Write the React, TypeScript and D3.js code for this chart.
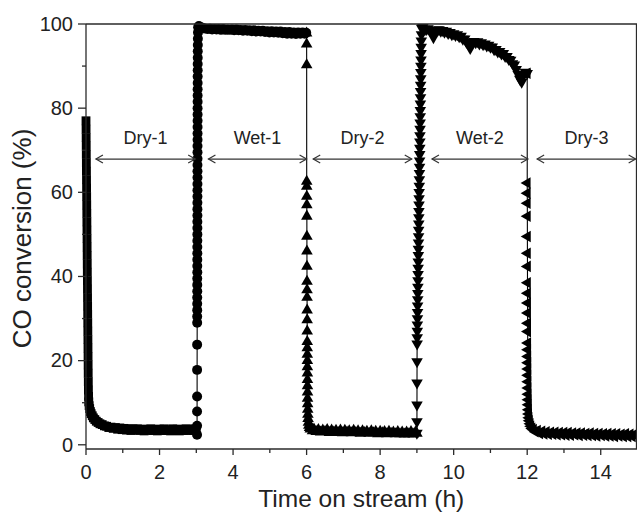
import React from 'react';
import * as d3 from 'd3';

// ---- data (time h, CO conversion %) ----
const dry1: [number, number][] = [
  [0.000,77.0],[0.002,75],[0.004,73],[0.006,71],[0.008,69],[0.010,67],[0.012,65],[0.014,63],[0.016,61],[0.018,59],
  [0.020,57],[0.022,55],[0.024,53],[0.026,51],[0.028,49],[0.030,47],[0.032,45],[0.034,43],[0.036,41],[0.038,39],
  [0.040,37],[0.042,35],[0.044,33],[0.046,31],[0.048,29],[0.050,27],[0.052,25],[0.054,23],[0.056,21],[0.058,19],
  [0.060,17],[0.063,15],[0.066,13],[0.070,11.5],[0.076,10.2],[0.085,9.3],[0.10,8.6],[0.12,7.9],[0.14,7.4],[0.17,6.9],
  [0.20,6.4],[0.24,6.0],[0.28,5.6],[0.33,5.3],[0.38,5.0],[0.44,4.8],[0.50,4.5],[0.56,4.4],[0.62,4.1],[0.68,4.2],
  [0.74,3.9],[0.80,4.1],[0.86,3.7],[0.92,4.0],[0.98,3.6],[1.04,3.9],[1.10,3.5],[1.16,3.8],[1.22,3.4],[1.28,3.8],
  [1.34,3.5],[1.40,3.8],[1.46,3.4],[1.52,3.7],[1.58,3.3],[1.64,3.7],[1.70,3.4],[1.76,3.8],[1.82,3.4],[1.88,3.7],
  [1.94,3.3],[2.00,3.7],[2.06,3.4],[2.12,3.8],[2.18,3.4],[2.24,3.6],[2.30,3.3],[2.36,3.8],[2.42,3.4],[2.48,3.7],
  [2.54,3.3],[2.60,3.7],[2.66,3.4],[2.72,3.8],[2.78,3.4],[2.84,3.7],[2.90,3.4],[2.96,3.8],[3.00,3.5],
];

const wet1: [number, number][] = [
  [3.020,2.4],[3.021,4.5],[3.021,7.9],[3.022,11.5],[3.022,17.8],[3.023,23.8],
  [3.024,29.0],[3.024,30.5],[3.025,32.0],[3.025,33.5],[3.025,35.0],[3.026,36.5],[3.026,38.0],[3.026,39.5],[3.027,41.0],[3.027,42.5],
  [3.027,44.0],[3.028,45.5],[3.028,47.0],[3.028,48.5],[3.029,50.0],[3.029,51.5],[3.029,53.0],[3.030,54.5],[3.030,56.0],[3.030,57.5],
  [3.031,59.0],[3.031,60.5],[3.031,62.0],[3.032,63.5],[3.032,65.0],[3.032,66.5],[3.033,68.0],[3.033,69.5],[3.033,71.0],[3.034,72.5],
  [3.034,74.0],[3.034,75.5],[3.035,77.0],[3.035,78.5],[3.035,80.0],[3.036,81.5],[3.036,83.0],[3.036,84.5],[3.037,86.0],[3.037,87.5],
  [3.038,89.0],[3.038,90.5],[3.039,92.0],[3.040,93.5],[3.041,95.0],[3.043,96.5],[3.046,98.0],[3.05,99.2],
  [3.07,99.5],[3.10,99.3],[3.14,99.2],[3.19,99.0],[3.25,98.9],[3.31,98.8],[3.37,98.9],[3.43,98.7],[3.49,98.8],[3.55,98.7],
  [3.61,98.8],[3.67,98.6],[3.73,98.8],[3.79,98.6],[3.85,98.7],[3.91,98.6],[3.97,98.7],[4.03,98.5],[4.09,98.7],[4.15,98.5],
  [4.21,98.6],[4.27,98.4],[4.33,98.6],[4.39,98.4],[4.45,98.5],[4.51,98.3],[4.57,98.5],[4.63,98.2],[4.69,98.4],[4.75,98.2],
  [4.81,98.4],[4.87,98.1],[4.93,98.3],[4.99,98.0],[5.05,98.3],[5.11,98.0],[5.17,98.2],[5.23,97.9],[5.29,98.2],[5.35,97.8],
  [5.41,98.1],[5.47,97.7],[5.53,98.1],[5.59,97.7],[5.65,98.0],[5.71,97.6],[5.77,98.0],[5.83,97.7],[5.89,98.0],[5.95,97.7],[5.99,97.9],
];

const dry2: [number, number][] = [
  [6.000,97.8],[6.001,95.2],[6.002,90.3],[6.003,62.6],[6.004,61.4],[6.005,59.0],[6.006,57.0],[6.007,54.3],[6.008,49.5],[6.009,46.0],
  [6.010,42.4],[6.011,38.8],[6.012,36.8],[6.013,35.0],[6.014,32.0],[6.015,29.7],[6.016,27.0],[6.017,24.5],[6.018,23.0],[6.019,21.5],
  [6.020,20.0],[6.021,18.5],[6.022,17.0],[6.023,15.5],[6.024,14.0],[6.025,12.5],[6.026,11.0],[6.028,9.7],[6.031,8.4],[6.035,7.2],
  [6.04,6.2],[6.05,5.3],[6.06,4.6],[6.08,4.1],[6.10,3.7],[6.13,3.9],[6.16,3.3],[6.20,3.7],[6.26,3.1],[6.32,3.6],
  [6.38,3.0],[6.44,3.5],[6.50,3.1],[6.56,3.6],[6.62,2.9],[6.68,3.5],[6.74,3.0],[6.80,3.4],[6.86,2.9],[6.92,3.5],
  [6.98,2.8],[7.04,3.4],[7.10,3.0],[7.16,3.3],[7.22,2.8],[7.28,3.4],[7.34,2.9],[7.40,3.3],[7.46,2.7],[7.52,3.3],
  [7.58,2.9],[7.64,3.2],[7.70,2.7],[7.76,3.3],[7.82,2.8],[7.88,3.2],[7.94,2.6],[8.00,3.2],[8.06,2.8],[8.12,3.1],
  [8.18,2.6],[8.24,3.2],[8.30,2.7],[8.36,3.0],[8.42,2.6],[8.48,3.1],[8.54,2.6],[8.60,3.0],[8.66,2.5],[8.72,3.0],
  [8.78,2.6],[8.84,3.1],[8.90,2.5],[8.96,3.0],[9.00,2.7],
];

const wet2: [number, number][] = [
  [9.000,2.8],[9.001,5.5],[9.002,9.5],[9.003,14.7],[9.004,19.8],
  [9.006,24.0],[9.008,25.5],[9.011,27.0],[9.013,28.5],[9.016,30.0],[9.018,31.5],[9.020,33.0],[9.023,34.5],[9.025,36.0],[9.027,37.5],
  [9.030,39.0],[9.032,40.5],[9.034,42.0],[9.037,43.5],[9.039,45.0],[9.041,46.5],[9.044,48.0],[9.046,49.5],[9.048,51.0],[9.051,52.5],
  [9.053,54.0],[9.055,55.5],[9.058,57.0],[9.060,58.5],[9.062,60.0],[9.065,61.5],[9.067,63.0],[9.070,64.5],[9.072,66.0],[9.074,67.5],
  [9.077,69.0],[9.079,70.5],[9.081,72.0],[9.084,73.5],[9.086,75.0],[9.088,76.5],[9.091,78.0],[9.093,79.5],[9.095,81.0],[9.098,82.5],
  [9.100,84.0],[9.102,85.5],[9.105,87.0],[9.107,88.5],[9.109,90.0],[9.112,91.5],[9.114,93.0],[9.117,94.5],[9.120,96.0],[9.124,97.5],
  [9.13,99.0],[9.16,99.2],[9.20,98.8],[9.25,98.7],[9.30,98.9],[9.35,98.5],[9.40,98.2],[9.45,96.8],[9.50,98.2],[9.55,98.6],
  [9.60,98.7],[9.65,98.3],[9.70,98.5],[9.75,98.1],[9.80,98.3],[9.85,97.8],[9.90,98.0],[9.95,97.5],[10.00,97.7],[10.05,97.3],
  [10.10,97.5],[10.15,97.0],[10.20,97.1],[10.25,96.4],[10.30,96.5],[10.35,95.7],[10.40,95.2],[10.45,94.2],[10.50,95.6],[10.55,95.9],
  [10.60,95.6],[10.65,95.8],[10.70,95.3],[10.75,95.6],[10.80,95.1],[10.85,95.3],[10.90,94.8],[10.95,95.0],[11.00,94.5],[11.05,94.6],
  [11.10,93.9],[11.15,94.0],[11.20,93.4],[11.25,93.5],[11.30,92.9],[11.35,93.0],[11.40,92.3],[11.45,92.3],[11.50,91.6],[11.55,91.4],
  [11.60,90.6],[11.65,90.3],[11.70,89.2],[11.75,88.1],[11.80,86.9],[11.85,86.2],[11.90,87.8],[11.95,88.6],[12.00,88.3],
];

const dry3: [number, number][] = [
  [12.000,88.3],[12.001,62.2],[12.002,59.8],[12.003,57.4],[12.004,54.3],[12.005,49.5],[12.006,45.5],[12.007,42.4],[12.008,38.5],[12.009,36.0],
  [12.010,33.7],[12.011,31.3],[12.012,28.9],[12.013,26.9],[12.014,24.2],[12.015,22.6],[12.016,21.0],[12.017,19.5],[12.018,18.0],[12.019,16.5],
  [12.020,15.0],[12.022,13.5],[12.024,12.0],[12.027,10.7],[12.030,9.5],[12.035,8.3],[12.040,7.3],[12.050,6.4],[12.060,5.7],[12.080,5.0],
  [12.10,4.4],[12.13,3.9],[12.17,3.6],[12.22,3.1],[12.28,3.4],[12.34,2.7],[12.40,3.2],[12.46,2.6],[12.52,3.1],[12.58,2.5],
  [12.64,3.0],[12.70,2.5],[12.76,3.0],[12.82,2.4],[12.88,2.9],[12.94,2.4],[13.00,2.9],[13.06,2.3],[13.12,2.9],[13.18,2.3],
  [13.24,2.8],[13.30,2.4],[13.36,2.8],[13.42,2.2],[13.48,2.8],[13.54,2.3],[13.60,2.7],[13.66,2.2],[13.72,2.8],[13.78,2.2],
  [13.84,2.7],[13.90,2.1],[13.96,2.7],[14.02,2.2],[14.08,2.6],[14.14,2.1],[14.20,2.7],[14.26,2.1],[14.32,2.6],[14.38,2.0],
  [14.44,2.6],[14.50,2.1],[14.56,2.5],[14.62,2.0],[14.68,2.6],[14.74,2.0],[14.80,2.5],[14.86,2.0],[14.92,2.5],[14.98,2.1],
];

const phaseLabels = ['Dry-1', 'Wet-1', 'Dry-2', 'Wet-2', 'Dry-3'];
const phaseStart = [0.27, 3.33, 6.18, 9.41, 12.27];
const phaseEnd = [2.97, 6.0, 8.86, 12.02, 14.95];
const phaseArrowValue = 67.9;
const phaseLabelValue = 71.5;

const xMajorTicks = [0, 2, 4, 6, 8, 10, 12, 14];
const xMinorTicks = [1, 3, 5, 7, 9, 11, 13];
const yMajorTicks = [0, 20, 40, 60, 80, 100];
const yMinorTicks = [10, 30, 50, 70, 90];

const FONT = 'Arial, "Liberation Sans", Helvetica, sans-serif';
const AX = '#2a2a2a';

const x = d3.scaleLinear().domain([0, 15]).range([86, 637.5]);
const y = d3.scaleLinear().domain([-1, 100]).range([449, 24]);

const series = [
  { data: dry1, symbol: d3.symbolSquare, size: 78, rot: 0 },
  { data: wet1, symbol: d3.symbolCircle, size: 78, rot: 0 },
  { data: dry2, symbol: d3.symbolTriangle, size: 58, rot: 0 },
  { data: wet2, symbol: d3.symbolTriangle, size: 58, rot: 180 },
  { data: dry3, symbol: d3.symbolTriangle, size: 58, rot: -90 },
];

const lineGen = d3.line<[number, number]>().x(d => x(d[0])).y(d => y(d[1]));

function Arrow({ x1, x2, yy }: { x1: number; x2: number; yy: number }) {
  const h = 7, w = 4;
  return (
    <g stroke="#333" strokeWidth={1.2} fill="none">
      <line x1={x1} y1={yy} x2={x2} y2={yy} />
      <polyline points={`${x1 + h},${yy - w} ${x1},${yy} ${x1 + h},${yy + w}`} />
      <polyline points={`${x2 - h},${yy - w} ${x2},${yy} ${x2 - h},${yy + w}`} />
    </g>
  );
}

export default function App() {
  const [x0] = x.range();
  const [y0, y1] = y.range();
  return (
    <svg width={637} height={514} style={{ position: 'absolute', left: 0, top: 0, background: '#fff' }}
      fontFamily={FONT}>
      <rect x={0} y={0} width={637} height={514} fill="#fff" />
      {series.map((s, i) => {
        const sym = d3.symbol().type(s.symbol).size(s.size)()!;
        return (
          <g key={i}>
            <path d={lineGen(s.data)!} fill="none" stroke="#000" strokeWidth={1.1} />
            {s.data.map((d, j) => (
              <path key={j} d={sym} fill="#000"
                transform={`translate(${x(d[0])},${y(d[1])}) rotate(${s.rot})`} />
            ))}
          </g>
        );
      })}
      <g stroke={AX} strokeWidth={1.3} fill="none">
        <line x1={x0} y1={y1} x2={x0} y2={y0} />
        <line x1={x0} y1={y0} x2={637} y2={y0} />
        <line x1={x0} y1={y1} x2={637} y2={y1} />
        <line x1={636.5} y1={y1} x2={636.5} y2={y0} />
      </g>
      <g stroke={AX} strokeWidth={1.3}>
        {xMajorTicks.map(t => <line key={'xM' + t} x1={x(t)} x2={x(t)} y1={y0} y2={y0 + 6} />)}
        {xMinorTicks.map(t => <line key={'xm' + t} x1={x(t)} x2={x(t)} y1={y0} y2={y0 + 4} />)}
        {yMajorTicks.map(t => <line key={'yM' + t} x1={x0 - 8} x2={x0} y1={y(t)} y2={y(t)} />)}
        {yMinorTicks.map(t => <line key={'ym' + t} x1={x0 - 4} x2={x0} y1={y(t)} y2={y(t)} />)}
      </g>
      <g fill="#222" fontSize={20}>
        {xMajorTicks.map(t => (
          <text key={'xl' + t} x={x(t)} y={479} textAnchor="middle">{t}</text>
        ))}
        {yMajorTicks.map(t => (
          <text key={'yl' + t} x={73} y={y(t)} dy="0.34em" textAnchor="end">{t}</text>
        ))}
      </g>
      <text x={(x0 + 636.5) / 2} y={507} textAnchor="middle" fontSize={24.5} fill="#222">Time on stream (h)</text>
      <text transform={`translate(31,${(y0 + y1) / 2 + 2}) rotate(-90)`} textAnchor="middle" fontSize={26} fill="#222">CO conversion (%)</text>
      {phaseLabels.map((lab, i) => (
        <g key={lab}>
          <Arrow x1={x(phaseStart[i])} x2={x(phaseEnd[i])} yy={y(phaseArrowValue)} />
          <text x={(x(phaseStart[i]) + x(phaseEnd[i])) / 2} y={y(phaseLabelValue)} textAnchor="middle"
            fontSize={18} fill="#222">{lab}</text>
        </g>
      ))}
    </svg>
  );
}
